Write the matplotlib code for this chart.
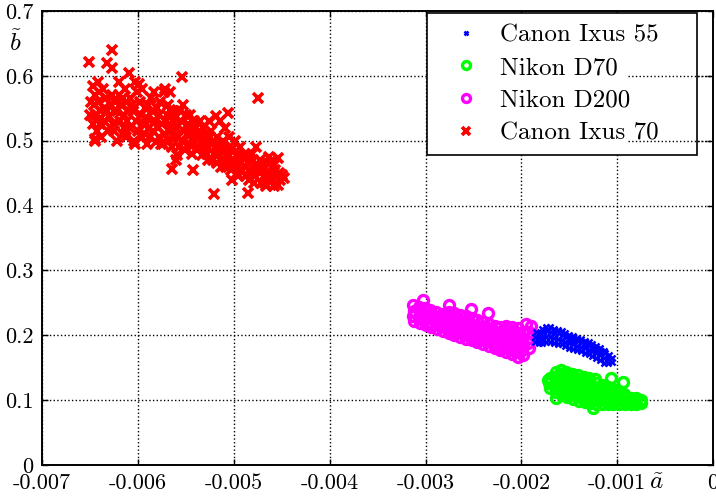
import numpy as np
import matplotlib
matplotlib.use("Agg")
import matplotlib.pyplot as plt
from matplotlib.patches import Rectangle

plt.rcParams['font.family'] = ['cmr10', 'DejaVu Serif']
plt.rcParams['mathtext.fontset'] = 'cm'
plt.rcParams['axes.unicode_minus'] = False

# points, x in units of 1e-3
ixus55_pts = [
  (-1.86,0.190),(-1.86,0.198),(-1.85,0.205),(-1.82,0.188),(-1.82,0.196),(-1.81,0.204),
  (-1.78,0.188),(-1.78,0.196),(-1.77,0.205),(-1.78,0.210),(-1.74,0.189),(-1.74,0.197),
  (-1.73,0.206),(-1.74,0.212),(-1.70,0.189),(-1.70,0.197),(-1.69,0.205),(-1.70,0.212),
  (-1.66,0.188),(-1.66,0.196),(-1.65,0.204),(-1.66,0.210),(-1.62,0.187),(-1.62,0.195),
  (-1.61,0.203),(-1.62,0.208),(-1.58,0.186),(-1.58,0.193),(-1.57,0.200),(-1.58,0.207),
  (-1.54,0.183),(-1.54,0.190),(-1.53,0.197),(-1.54,0.204),(-1.50,0.181),(-1.50,0.188),
  (-1.49,0.195),(-1.50,0.201),(-1.46,0.179),(-1.46,0.186),(-1.45,0.193),(-1.46,0.199),
  (-1.42,0.177),(-1.42,0.184),(-1.41,0.191),(-1.42,0.196),(-1.38,0.175),(-1.38,0.182),
  (-1.37,0.189),(-1.38,0.194),(-1.34,0.173),(-1.34,0.180),(-1.33,0.187),(-1.34,0.191),
  (-1.30,0.171),(-1.30,0.178),(-1.29,0.185),(-1.30,0.189),(-1.26,0.168),(-1.26,0.175),
  (-1.25,0.182),(-1.26,0.186),(-1.22,0.165),(-1.22,0.172),(-1.21,0.179),(-1.22,0.183),
  (-1.18,0.162),(-1.18,0.169),(-1.17,0.176),(-1.18,0.180),(-1.14,0.158),(-1.14,0.165),
  (-1.13,0.172),(-1.14,0.176),(-1.10,0.157),(-1.10,0.164),(-1.09,0.170),(-1.06,0.159),
  (-1.06,0.165),
]

d70_pts = [
  (-1.70,0.118),(-1.71,0.126),(-1.70,0.134),(-1.64,0.112),(-1.65,0.120),(-1.64,0.128),
  (-1.65,0.136),(-1.64,0.143),(-1.58,0.108),(-1.59,0.116),(-1.58,0.124),(-1.59,0.132),
  (-1.58,0.140),(-1.59,0.146),(-1.52,0.105),(-1.53,0.113),(-1.52,0.121),(-1.53,0.129),
  (-1.52,0.137),(-1.53,0.144),(-1.46,0.102),(-1.47,0.110),(-1.46,0.118),(-1.47,0.126),
  (-1.46,0.134),(-1.47,0.141),(-1.40,0.099),(-1.41,0.107),(-1.40,0.115),(-1.41,0.123),
  (-1.40,0.131),(-1.41,0.138),(-1.34,0.097),(-1.35,0.105),(-1.34,0.113),(-1.35,0.121),
  (-1.34,0.129),(-1.35,0.136),(-1.28,0.095),(-1.29,0.103),(-1.28,0.111),(-1.29,0.119),
  (-1.28,0.127),(-1.29,0.134),(-1.22,0.094),(-1.23,0.102),(-1.22,0.110),(-1.23,0.118),
  (-1.22,0.126),(-1.23,0.132),(-1.16,0.094),(-1.17,0.102),(-1.16,0.110),(-1.17,0.118),
  (-1.16,0.124),(-1.10,0.094),(-1.11,0.101),(-1.10,0.108),(-1.11,0.115),(-1.10,0.120),
  (-1.04,0.094),(-1.05,0.100),(-1.04,0.107),(-1.05,0.113),(-1.04,0.117),(-0.98,0.094),
  (-0.99,0.100),(-0.98,0.106),(-0.99,0.111),(-0.92,0.094),(-0.93,0.099),(-0.92,0.105),
  (-0.93,0.110),(-0.86,0.094),(-0.87,0.099),(-0.86,0.104),(-0.80,0.094),(-0.81,0.099),
  (-0.80,0.103),(-0.75,0.095),(-0.75,0.100),
  (-1.07,0.134),(-0.94,0.128),(-1.72,0.131),(-1.64,0.104),(-1.25,0.088),
]

d200_pts = [
  (-3.12,0.222),(-3.13,0.230),(-3.12,0.238),(-3.13,0.246),(-3.06,0.219),(-3.07,0.227),
  (-3.06,0.235),(-3.07,0.244),(-3.00,0.216),(-3.01,0.225),(-3.00,0.233),(-3.01,0.242),
  (-2.94,0.213),(-2.95,0.221),(-2.94,0.230),(-2.95,0.239),(-2.88,0.210),(-2.89,0.218),
  (-2.88,0.227),(-2.89,0.236),(-2.82,0.207),(-2.83,0.215),(-2.82,0.224),(-2.83,0.233),
  (-2.76,0.204),(-2.77,0.212),(-2.76,0.221),(-2.77,0.230),(-2.76,0.236),(-2.70,0.201),
  (-2.71,0.209),(-2.70,0.218),(-2.71,0.227),(-2.70,0.234),(-2.64,0.198),(-2.65,0.206),
  (-2.64,0.215),(-2.65,0.224),(-2.64,0.232),(-2.58,0.195),(-2.59,0.203),(-2.58,0.212),
  (-2.59,0.221),(-2.58,0.229),(-2.52,0.192),(-2.53,0.200),(-2.52,0.209),(-2.53,0.218),
  (-2.52,0.227),(-2.46,0.189),(-2.47,0.197),(-2.46,0.206),(-2.47,0.215),(-2.46,0.224),
  (-2.40,0.186),(-2.41,0.194),(-2.40,0.203),(-2.41,0.212),(-2.40,0.221),(-2.34,0.183),
  (-2.35,0.191),(-2.34,0.200),(-2.35,0.209),(-2.34,0.218),(-2.28,0.180),(-2.29,0.188),
  (-2.28,0.197),(-2.29,0.206),(-2.28,0.215),(-2.22,0.177),(-2.23,0.185),(-2.22,0.194),
  (-2.23,0.203),(-2.22,0.212),(-2.16,0.174),(-2.17,0.182),(-2.16,0.191),(-2.17,0.200),
  (-2.16,0.209),(-2.16,0.215),(-2.10,0.171),(-2.11,0.179),(-2.10,0.188),(-2.11,0.197),
  (-2.10,0.206),(-2.10,0.213),(-2.04,0.167),(-2.05,0.176),(-2.04,0.185),(-2.05,0.194),
  (-2.04,0.203),(-2.04,0.211),(-1.98,0.170),(-1.99,0.178),(-1.98,0.187),(-1.99,0.196),
  (-1.98,0.205),(-1.92,0.180),(-1.93,0.188),(-1.92,0.196),(-1.92,0.205),
  (-3.03,0.254),(-2.76,0.246),(-2.53,0.241),(-2.35,0.235),(-1.90,0.215),(-1.95,0.218),
]

ixus70_pts = [
  (-6.47,0.585),(-6.45,0.570),(-6.46,0.555),(-6.44,0.540),(-6.47,0.525),(-6.43,0.515),(-6.45,0.503),
  (-6.42,0.560),(-6.40,0.548),(-6.41,0.575),(-6.36,0.580),(-6.33,0.565),(-6.35,0.550),(-6.30,0.538),
  (-6.34,0.528),(-6.28,0.555),(-6.27,0.570),(-6.31,0.515),(-6.25,0.545),(-6.26,0.525),(-6.20,0.570),
  (-6.18,0.555),(-6.15,0.540),(-6.19,0.530),(-6.12,0.560),(-6.14,0.520),(-6.10,0.548),(-6.16,0.510),
  (-6.11,0.530),(-6.13,0.580),(-6.05,0.545),(-6.02,0.530),(-6.00,0.515),(-5.98,0.560),(-6.04,0.500),
  (-5.97,0.540),(-5.95,0.525),(-6.01,0.575),(-5.96,0.505),(-6.03,0.495),(-5.99,0.588),(-5.90,0.535),
  (-5.88,0.520),(-5.85,0.545),(-5.87,0.505),(-5.82,0.530),(-5.84,0.515),(-5.80,0.550),(-5.86,0.565),
  (-5.81,0.498),(-5.83,0.575),(-5.75,0.525),(-5.72,0.510),(-5.70,0.540),(-5.68,0.500),(-5.74,0.495),
  (-5.66,0.520),(-5.69,0.555),(-5.71,0.530),(-5.67,0.548),(-5.73,0.575),(-5.60,0.520),(-5.58,0.505),
  (-5.55,0.530),(-5.57,0.490),(-5.52,0.515),(-5.54,0.500),(-5.50,0.540),(-5.56,0.545),(-5.51,0.485),
  (-5.59,0.478),(-5.53,0.555),(-5.45,0.510),(-5.42,0.495),(-5.40,0.520),(-5.38,0.485),(-5.44,0.480),
  (-5.36,0.505),(-5.41,0.530),(-5.37,0.490),(-5.35,0.515),(-5.43,0.455),(-5.30,0.495),(-5.28,0.480),
  (-5.25,0.505),(-5.22,0.470),(-5.27,0.470),(-5.20,0.490),(-5.24,0.515),(-5.21,0.500),(-5.29,0.510),
  (-5.26,0.530),(-5.15,0.480),(-5.12,0.470),(-5.10,0.490),(-5.08,0.460),(-5.13,0.460),(-5.06,0.475),
  (-5.11,0.500),(-5.05,0.465),(-5.14,0.530),(-5.09,0.520),(-5.00,0.470),(-4.98,0.460),(-4.95,0.480),
  (-4.97,0.450),(-4.92,0.465),(-4.94,0.455),(-4.90,0.475),(-4.96,0.445),(-4.99,0.500),(-4.93,0.490),
  (-5.02,0.440),(-4.85,0.465),(-4.82,0.450),(-4.80,0.470),(-4.78,0.445),(-4.84,0.440),(-4.76,0.460),
  (-4.81,0.480),(-4.79,0.435),(-4.77,0.490),(-4.83,0.455),(-4.70,0.455),(-4.68,0.445),(-4.65,0.465),
  (-4.67,0.435),(-4.62,0.450),(-4.64,0.440),(-4.60,0.470),(-4.66,0.430),(-4.63,0.475),(-4.55,0.445),
  (-4.52,0.440),(-4.50,0.447),(-4.54,0.432),(-4.57,0.455),(-4.48,0.443),(-4.54,0.474),
  (-6.38,0.535),(-6.38,0.505),(-6.22,0.545),(-6.22,0.500),(-6.08,0.520),(-6.08,0.565),(-5.93,0.550),
  (-5.93,0.510),(-5.78,0.540),(-5.78,0.505),(-5.77,0.560),(-5.63,0.530),(-5.63,0.505),(-5.62,0.545),
  (-5.48,0.525),(-5.47,0.495),(-5.46,0.540),(-5.33,0.500),(-5.32,0.520),(-5.33,0.478),(-5.18,0.505),
  (-5.18,0.485),(-5.17,0.465),(-5.03,0.485),(-5.03,0.455),(-4.88,0.460),(-4.88,0.480),(-4.87,0.445),
  (-4.73,0.450),(-4.73,0.470),(-4.72,0.435),(-4.58,0.445),(-4.58,0.462),(-6.50,0.540),(-6.49,0.560),
  (-6.42,0.590),(-6.40,0.525),(-6.32,0.545),(-6.24,0.560),(-6.16,0.565),(-6.06,0.555),(-5.92,0.525),
  (-5.89,0.555),(-5.79,0.520),(-5.76,0.495),(-5.64,0.490),(-5.61,0.535),(-5.49,0.510),(-5.39,0.505),
  (-5.31,0.488),(-5.23,0.495),(-5.16,0.495),(-5.07,0.485),(-5.01,0.460),(-4.91,0.455),(-4.86,0.475),
  (-4.75,0.455),(-4.69,0.465),(-4.61,0.440),(-4.53,0.450),(-6.12,0.505),(-5.96,0.580),(-5.68,0.515),
  (-5.44,0.520),(-5.21,0.480),(-4.95,0.470),
  (-6.51,0.622),(-6.27,0.640),(-6.32,0.619),(-6.27,0.612),(-6.09,0.605),(-5.54,0.598),(-4.75,0.566),
  (-5.21,0.418),(-4.85,0.420),(-6.45,0.500),(-6.25,0.515),(-5.72,0.580),(-5.66,0.575),(-5.19,0.538),
  (-5.35,0.530),(-5.06,0.543),(-5.05,0.505),(-6.03,0.590),(-6.20,0.590),(-5.90,0.495),(-5.64,0.457),
  (-5.60,0.470),(-4.58,0.430),
]

series = ['Canon Ixus 55', 'Nikon D70', 'Nikon D200', 'Canon Ixus 70']
xticks = [-0.007, -0.006, -0.005, -0.004, -0.003, -0.002, -0.001, 0]
xtick_labels = ['-0.007', '-0.006', '-0.005', '-0.004', '-0.003', '-0.002', '-0.001', '0']
yticks = [0, 0.1, 0.2, 0.3, 0.4, 0.5, 0.6, 0.7]
ytick_labels = ['0', '0.1', '0.2', '0.3', '0.4', '0.5', '0.6', '0.7']


def split(pts):
  arr = np.array(pts)
  return arr[:, 0] * 1e-3, arr[:, 1]


fig = plt.figure(figsize=(7.16, 4.96), dpi=100)
ax = fig.add_axes([0.0587, 0.0625, 0.9373, 0.9155])

x, y = split(d200_pts)
h_d200, = ax.plot(x, y, 'o', ls='none', mfc='none', mec='#ff00ff', ms=7.2, mew=2.4)
x, y = split(d70_pts)
h_d70, = ax.plot(x, y, 'o', ls='none', mfc='none', mec='#00ff00', ms=7.2, mew=2.4)
x, y = split(ixus55_pts)
h_55, = ax.plot(x, y, 'x', ls='none', color='#0000ff', ms=4, mew=1.8)
x, y = split(ixus70_pts)
h_70, = ax.plot(x, y, 'x', ls='none', color='#ff0000', ms=6.5, mew=2.6)

ax.set_xlim(-0.007, 0)
ax.set_ylim(0, 0.7)
ax.set_xticks(xticks)
ax.set_xticklabels(xtick_labels)
ax.set_yticks(yticks)
ax.set_yticklabels(ytick_labels)
ax.tick_params(direction='in', top=True, right=True, length=4, width=1, labelsize=16, pad=6)
ax.grid(True, color='black', ls=':', lw=1)
for s in ax.spines.values():
  s.set_linewidth(1.4)

ax.text(-0.000595, -0.028, r'$\tilde{a}$', fontsize=18, ha='center', va='center')
ax.text(-0.00728, 0.651, r'$\tilde{b}$', fontsize=18, ha='center', va='center')

# legend box
box = Rectangle((0.5738, 0.6835), 0.4024, 0.3121, transform=ax.transAxes,
                facecolor='white', edgecolor='black', lw=1.2, zorder=4)
ax.add_patch(box)
for yv in [0.5, 0.6]:
  ax.plot([-0.000887, 0], [yv, yv], color='black', ls=':', lw=1, zorder=4.5)

leg = ax.legend([h_55, h_d70, h_d200, h_70], series, loc='upper left',
                bbox_to_anchor=(0.613, 0.9714), fontsize=18, frameon=False,
                borderpad=0, labelspacing=0.41, handletextpad=0.86,
                handlelength=1.0, borderaxespad=0, markerscale=0.8)
leg.set_zorder(5)

fig.savefig('out.png', dpi=100)
